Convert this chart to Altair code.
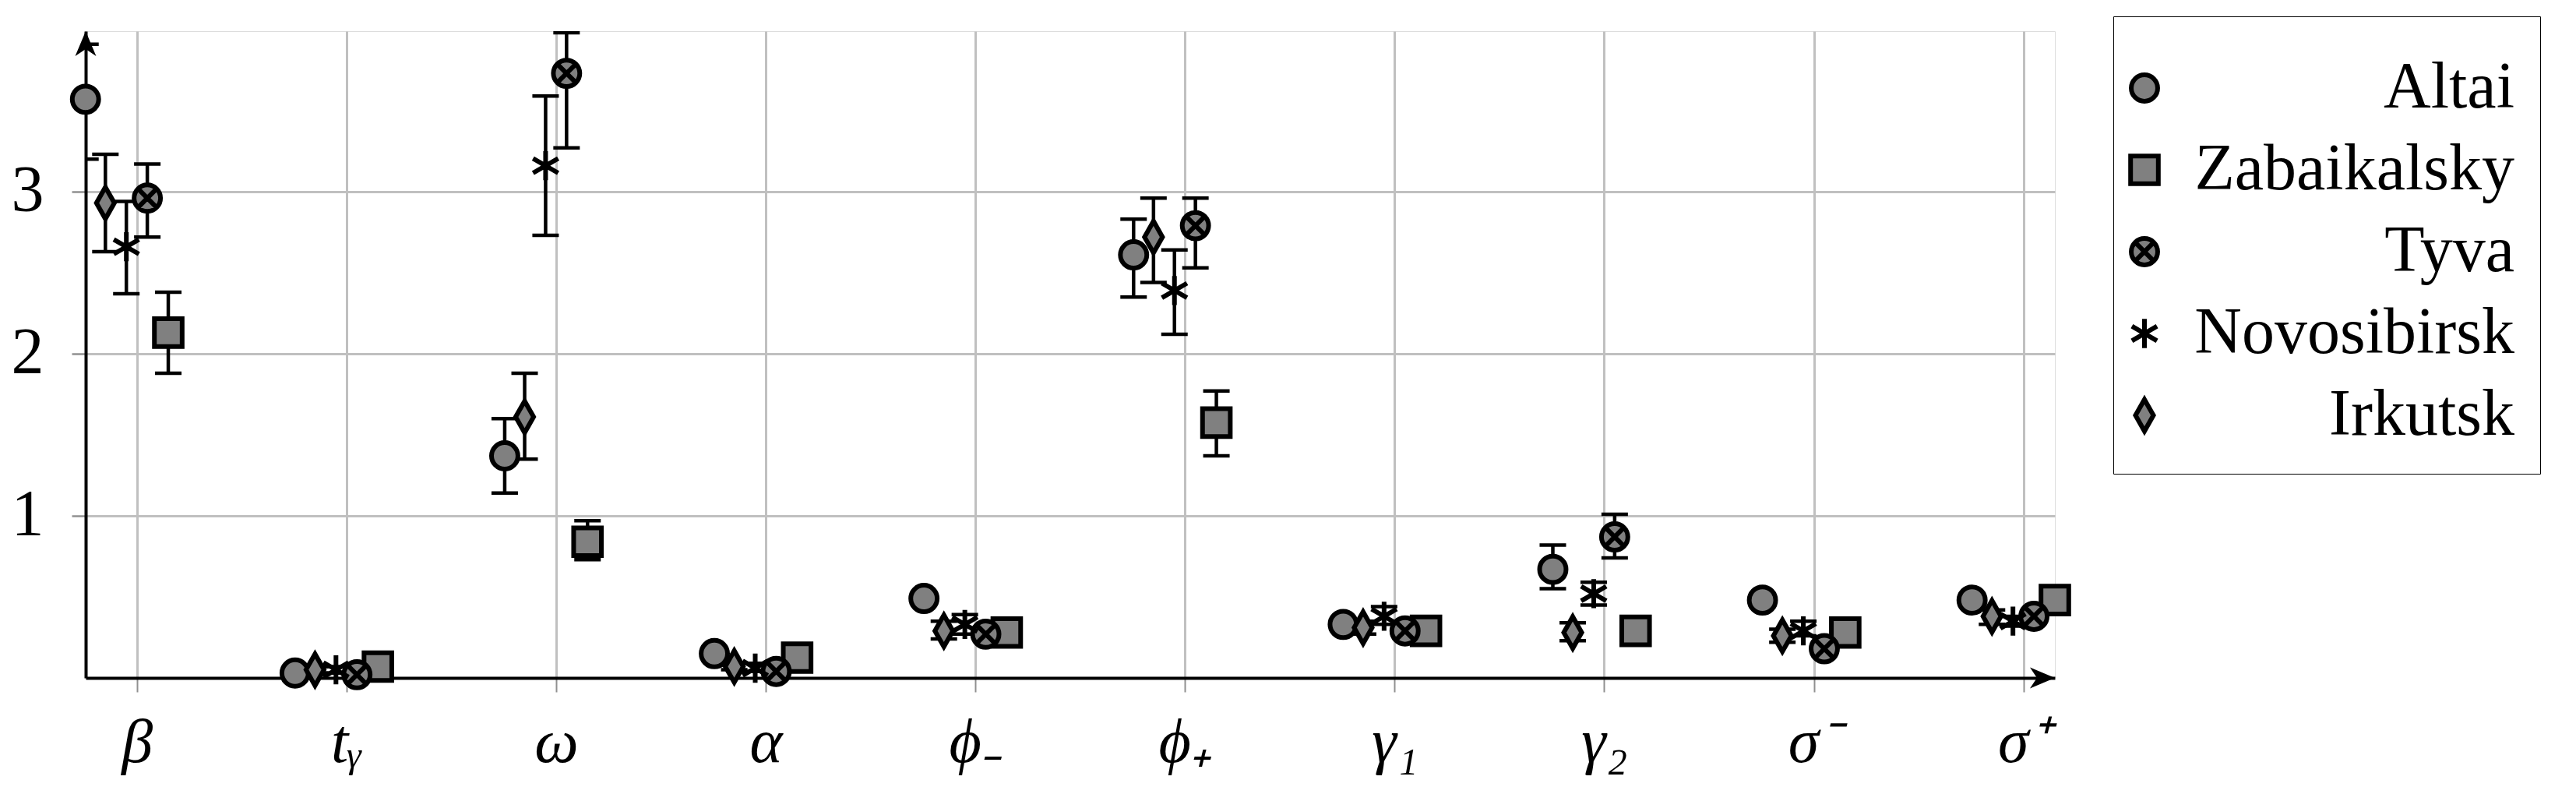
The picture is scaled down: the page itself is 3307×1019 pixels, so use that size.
import altair as alt
import pandas as pd

categories = ["β", "tᵧ", "ω", "α", "ϕ₋", "ϕ₊", "γ₁", "γ₂", "σ⁻", "σ⁺"]
series = ["Altai", "Zabaikalsky", "Tyva", "Novosibirsk", "Irkutsk"]
offsets = [-0.245, 0.15, 0.05, -0.05, -0.15]

altai = [3.57, 0.03, 1.37, 0.15, 0.49, 2.61, 0.33, 0.67, 0.48, 0.48]
altai_lo = [3.20, 0.02, 1.14, 0.14, 0.48, 2.35, 0.32, 0.55, 0.47, 0.47]
altai_hi = [3.91, 0.04, 1.60, 0.16, 0.50, 2.83, 0.34, 0.82, 0.49, 0.49]

zabaikalsky = [2.13, 0.07, 0.84, 0.125, 0.28, 1.575, 0.29, 0.29, 0.28, 0.48]
zabaikalsky_lo = [1.88, 0.06, 0.73, 0.115, 0.27, 1.37, 0.28, 0.28, 0.27, 0.47]
zabaikalsky_hi = [2.38, 0.08, 0.97, 0.135, 0.29, 1.77, 0.30, 0.30, 0.29, 0.49]

tyva = [2.96, 0.02, 3.73, 0.04, 0.27, 2.79, 0.29, 0.87, 0.18, 0.38]
tyva_lo = [2.72, 0.01, 3.27, 0.03, 0.26, 2.53, 0.28, 0.74, 0.17, 0.37]
tyva_hi = [3.17, 0.03, 3.98, 0.05, 0.28, 2.96, 0.30, 1.01, 0.19, 0.39]

novosibirsk = [2.66, 0.05, 3.16, 0.06, 0.33, 2.39, 0.38, 0.52, 0.29, 0.35]
novosibirsk_lo = [2.37, 0.03, 2.73, 0.04, 0.27, 2.12, 0.33, 0.45, 0.26, 0.32]
novosibirsk_hi = [2.94, 0.07, 3.59, 0.09, 0.39, 2.64, 0.44, 0.59, 0.35, 0.38]

irkutsk = [2.93, 0.05, 1.61, 0.07, 0.29, 2.72, 0.31, 0.28, 0.26, 0.38]
irkutsk_lo = [2.63, 0.03, 1.35, 0.05, 0.24, 2.44, 0.27, 0.23, 0.22, 0.33]
irkutsk_hi = [3.23, 0.07, 1.88, 0.09, 0.35, 2.96, 0.35, 0.34, 0.30, 0.42]

y_ticks = [1, 2, 3]

values = {
    "Altai": (altai, altai_lo, altai_hi),
    "Zabaikalsky": (zabaikalsky, zabaikalsky_lo, zabaikalsky_hi),
    "Tyva": (tyva, tyva_lo, tyva_hi),
    "Novosibirsk": (novosibirsk, novosibirsk_lo, novosibirsk_hi),
    "Irkutsk": (irkutsk, irkutsk_lo, irkutsk_hi),
}

rows = []
for s, off in zip(series, offsets):
    v, lo, hi = values[s]
    for i in range(len(categories)):
        rows.append({"series": s, "x": i + off, "v": v[i], "lo": lo[i], "hi": hi[i]})
df = pd.DataFrame(rows)

XMIN, XMAX = -0.244, 9.15
YMIN, YMAX = 0.0, 3.99

FONT = "Liberation Serif"
GRAY = "#808080"

tyva_path = "M-1,0A1,1 0 1,0 1,0A1,1 0 1,0 -1,0ZM-0.68,-0.68L0.68,0.68M-0.68,0.68L0.68,-0.68"
star_path = "M0,-1.1L0,1.1M-0.95,-0.55L0.95,0.55M-0.95,0.55L0.95,-0.55"
diamond_path = "M0,-1.2L0.68,0L0,1.2L-0.68,0Z"
square_path = "M-1.05,-1.05L1.05,-1.05L1.05,1.05L-1.05,1.05Z"
shape_range = ["circle", square_path, tyva_path, star_path, diamond_path]

label_expr = "[" + ",".join("'" + c + "'" for c in categories) + "][datum.value]"

xscale = alt.Scale(domain=[XMIN, XMAX], nice=False, zero=False)
yscale = alt.Scale(domain=[YMIN, YMAX], nice=False, zero=False)

xaxis = alt.Axis(
    values=list(range(len(categories))), labelExpr=label_expr, title=None,
    grid=True, gridColor="#c0c0c0", gridWidth=3,
    domainColor="black", domainWidth=4,
    tickColor="#909090", tickWidth=2, tickSize=18,
    labelFont=FONT, labelFontSize=80, labelFontStyle="italic", labelColor="black",
    labelPadding=26,
)
yaxis = alt.Axis(
    values=y_ticks, format="d", title=None,
    grid=True, gridColor="#c0c0c0", gridWidth=3,
    domainColor="black", domainWidth=4,
    tickColor="#909090", tickWidth=2.5, tickSize=18,
    labelFont=FONT, labelFontSize=84, labelColor="black", labelPadding=36,
)

base = alt.Chart(df)

bars = base.mark_rule(color="black", strokeWidth=4.5, clip=True).encode(
    x=alt.X("x:Q", scale=xscale, axis=xaxis),
    y=alt.Y("lo:Q", scale=yscale, axis=yaxis),
    y2="hi:Q",
)
cap_lo = base.mark_tick(orient="horizontal", color="black", size=34, thickness=4.5, opacity=1, clip=True).encode(
    x="x:Q", y="lo:Q"
)
cap_hi = base.mark_tick(orient="horizontal", color="black", size=34, thickness=4.5, opacity=1, clip=True).encode(
    x="x:Q", y="hi:Q"
)

legend = alt.Legend(
    title=" ", titleFontSize=10, titlePadding=7,
    orient="none", legendX=2603, legendY=-19,
    labelFont=FONT, labelFontSize=84, labelColor="black",
    labelAlign="right", labelOffset=433, labelLimit=1000,
    symbolSize=1150, symbolStrokeWidth=6, symbolFillColor=GRAY,
    symbolStrokeColor="black", symbolOpacity=1, symbolOffset=-35,
    strokeColor="black", padding=33, rowPadding=21,
)

points = base.mark_point(
    filled=False, fill=GRAY, fillOpacity=1,
    strokeWidth=6, opacity=1, size=1150,
).encode(
    x="x:Q",
    y="v:Q",
    shape=alt.Shape("series:N", scale=alt.Scale(domain=series, range=shape_range), legend=legend),
    color=alt.Color("series:N", scale=alt.Scale(domain=series, range=["black"] * len(series)), legend=legend),
)

up_arrow = alt.Chart(pd.DataFrame({"x": [XMIN], "y": [YMAX]})).mark_point(
    shape="M0,0L-0.42,1L0,0.72L0.42,1Z", size=4096, filled=True, color="black", opacity=1
).encode(x="x:Q", y="y:Q")

right_arrow = alt.Chart(pd.DataFrame({"x": [XMAX], "y": [YMIN]})).mark_point(
    shape="M0,0L-1,-0.42L-0.72,0L-1,0.42Z", size=4096, filled=True, color="black", opacity=1
).encode(x="x:Q", y="y:Q")

chart = alt.layer(bars, cap_lo, cap_hi, points, up_arrow, right_arrow).properties(
    width=2528, height=830,
    autosize=alt.AutoSizeParams(type="none"),
    padding={"left": 102, "top": 32, "right": 655, "bottom": 135},
).configure_view(strokeWidth=0).configure_legend(strokeWidth=3.5).configure(font=FONT)

chart.save("out.html", embed_options={"renderer": "svg", "actions": False})
